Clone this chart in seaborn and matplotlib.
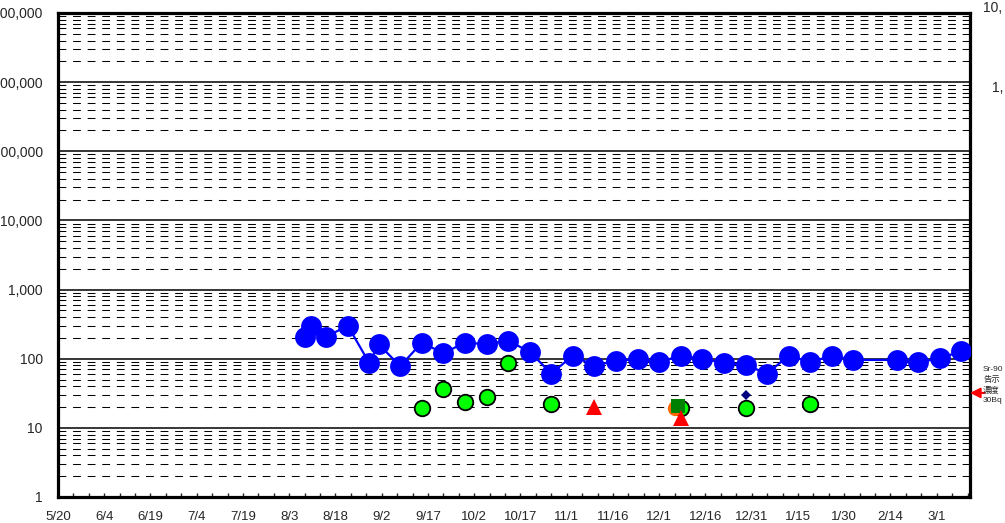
import numpy as np
import pandas as pd
import matplotlib
matplotlib.use('Agg')
import matplotlib.pyplot as plt
import matplotlib.dates as mdates
import matplotlib.transforms as mtransforms
from matplotlib.ticker import FixedLocator, NullFormatter
import seaborn as sns

# %% data (Bq/L, log scale)
blue_dates = ['2013-08-08', '2013-08-10', '2013-08-15', '2013-08-22', '2013-08-29',
              '2013-09-01', '2013-09-08', '2013-09-15', '2013-09-22', '2013-09-29',
              '2013-10-06', '2013-10-13', '2013-10-20', '2013-10-27', '2013-11-03',
              '2013-11-10', '2013-11-17', '2013-11-24', '2013-12-01', '2013-12-08',
              '2013-12-15', '2013-12-22', '2013-12-29', '2014-01-05', '2014-01-12',
              '2014-01-19', '2014-01-26', '2014-02-02', '2014-02-16', '2014-02-23',
              '2014-03-02', '2014-03-09']
blue_vals = [208, 300, 208, 300, 86, 162, 78, 171, 120, 171,
             162, 182, 126, 61, 111, 79, 94, 98, 89, 111,
             99, 88, 81, 61, 111, 89, 111, 96, 96, 89,
             101, 129]

green_dates = ['2013-09-15', '2013-09-22', '2013-09-29', '2013-10-06', '2013-10-13',
               '2013-10-27', '2013-12-08', '2013-12-29', '2014-01-19']
green_vals = [19.2, 37, 24, 28, 88, 22, 19.2, 19.2, 22]

orange_dates = ['2013-12-06']
orange_vals = [19.2]

square_dates = ['2013-12-07']
square_vals = [21]

tri_dates = ['2013-11-10', '2013-12-08']
tri_vals = [20.2, 13.7]

diamond_dates = ['2013-12-29']
diamond_vals = [30]

limit_val = 32
ytick_vals = [1, 10, 100, 1000, 10000, 100000, 1000000, 10000000]
ytick_labels = ['1', '10', '100', '1,000', '10,000', '100,000', '1,000,000', '10,000,000']

# %%
sns.set_style('white')
plt.rcParams['font.family'] = ['Liberation Sans', 'Noto Sans CJK JP', 'DejaVu Sans']

df_blue = pd.DataFrame({'date': pd.to_datetime(blue_dates), 'val': blue_vals})
df_green = pd.DataFrame({'date': pd.to_datetime(green_dates), 'val': green_vals})

fig = plt.figure(figsize=(10.05, 5.23), dpi=100)
ax = fig.add_axes([58 / 1005, 26 / 523, 912 / 1005, 484 / 523])

sns.lineplot(data=df_blue, x='date', y='val', ax=ax, color='#0000FF', linewidth=1.6,
             marker='o', markersize=15, markeredgewidth=0, markerfacecolor='#0000FF',
             zorder=5)
sns.scatterplot(data=df_green, x='date', y='val', ax=ax, color='#00FF00', s=125,
                edgecolor='black', linewidth=1.3, zorder=6)
ax.plot(pd.to_datetime(orange_dates), orange_vals, 'o', color='#FF6600', markersize=11,
        markeredgewidth=0, zorder=7)
ax.plot(pd.to_datetime(square_dates), square_vals, 's', color='#008000', markersize=10.5,
        markeredgewidth=0, zorder=8)
ax.plot(pd.to_datetime(tri_dates), tri_vals, '^', color='#FF0000', markersize=11,
        markeredgewidth=0, zorder=9)
ax.plot(pd.to_datetime(diamond_dates), diamond_vals, 'D', color='#000080', markersize=5.5,
        markeredgewidth=0, zorder=9)

ax.set_yscale('log')
ax.set_ylim(1, 1e7)
ax.set_xlim(pd.Timestamp('2013-05-20'), pd.Timestamp('2013-05-20') + pd.Timedelta(days=295.8))

ax.yaxis.set_major_locator(FixedLocator(ytick_vals))
ax.set_yticklabels(ytick_labels)
minor_y = [m * 10 ** e for e in range(0, 7) for m in range(2, 10)]
ax.yaxis.set_minor_locator(FixedLocator(minor_y))
ax.yaxis.set_minor_formatter(NullFormatter())
ax.grid(True, which='major', axis='y', color='black', linewidth=1.1, linestyle='-')
ax.grid(True, which='minor', axis='y', color='black', linewidth=0.75,
        linestyle=(0, (7.5, 6.5)))
ax.grid(False, axis='x')
ax.set_axisbelow(True)

major_x = pd.date_range('2013-05-20', periods=20, freq='15D')
minor_x = pd.date_range('2013-05-20', '2014-03-11', freq='5D')
ax.set_xticks(mdates.date2num(major_x))
ax.set_xticklabels([f'{d.month}/{d.day}' for d in major_x])
ax.set_xticks(mdates.date2num(minor_x), minor=True)

ax.tick_params(axis='x', which='both', direction='in', length=3, width=1, pad=10,
               labelsize=9.5, bottom=True)
ax.tick_params(axis='y', which='both', length=0, pad=11, labelsize=10)
ax.set_xlabel('')
ax.set_ylabel('')

for s in ax.spines.values():
    s.set_visible(True)
    s.set_color('black')
    s.set_linewidth(2.3)

# limit marker on the right
trans = mtransforms.blended_transform_factory(ax.transAxes, ax.transData)
ax.annotate('', xy=(1.0, limit_val), xycoords=trans,
            xytext=(1.016, limit_val), textcoords=trans,
            arrowprops=dict(arrowstyle='-|>', color='#FF0000', lw=1.5,
                            mutation_scale=15, shrinkA=0, shrinkB=0),
            annotation_clip=False)
fig.text(983 / 1005, 1 - 366 / 523, 'Sr-90\n告示\n濃度\n30Bq', fontsize=6, va='top',
         ha='left', linespacing=1.45)

# clipped labels of the neighbouring chart
fig.text(983 / 1005, 1 - 8 / 523, '10,', fontsize=10, va='center', ha='left')
fig.text(992 / 1005, 1 - 88 / 523, '1,', fontsize=10, va='center', ha='left')

plt.savefig('out.png', dpi=100)
